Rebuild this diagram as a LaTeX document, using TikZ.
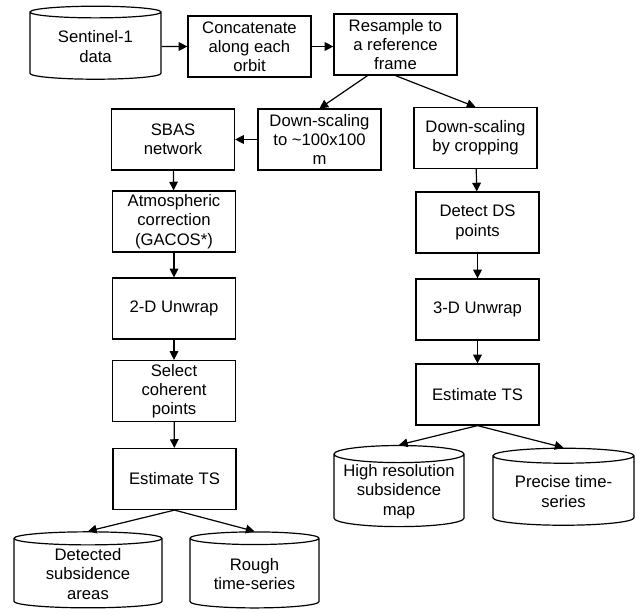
\documentclass[tikz,border=0pt]{standalone}
\usepackage{fontspec}
\setmainfont{Liberation Sans}
\usetikzlibrary{arrows.meta,shapes.geometric,calc}
\newcommand{\lbl}{\fontsize{12.5}{14.4}\selectfont}
\tikzset{
  stepbox/.style={draw,line width=0.9pt,align=center,inner sep=1pt,minimum width=92.25pt,minimum height=45.75pt,font=\lbl},
  store/.style={cylinder,shape border rotate=90,draw,line width=0.9pt,aspect=0.15,align=center,inner sep=1pt,font=\lbl},
  flow/.style={line width=0.9pt,-{Triangle[length=6.5pt,width=6.5pt]}},
}
\begin{document}
\begin{tikzpicture}[x=0.75pt,y=-0.75pt]
\useasboundingbox (0,0) rectangle (636,612);
\node[store,minimum width=98.25pt,minimum height=54.75pt] (data) at (95.5,46.5) {Sentinel-1\\data};
\node[stepbox] (concat) at (249.5,46.5) {Concatenate\\along each\\orbit};
\node[stepbox] (resample) at (395.5,44.5) {Resample to\\a reference\\frame};
\node[stepbox] (downsc) at (319.5,139.5) {Down-scaling\\to \textasciitilde100x100\\m};
\node[stepbox] (crop) at (475.5,138) {Down-scaling\\by cropping};
\node[stepbox] (sbas) at (173,139.5) {SBAS\\network};
\node[stepbox] (atmo) at (174,221.5) {Atmospheric\\correction\\(GACOS*)};
\node[stepbox] (unwraptwo) at (174,308.5) {2-D Unwrap};
\node[stepbox] (select) at (174,391) {Select\\coherent\\points};
\node[stepbox] (estleft) at (174.5,479) {Estimate TS};
\node[store,minimum width=111pt,minimum height=57pt] (detected) at (88,574) {Detected\\subsidence\\areas};
\node[store,minimum width=96.75pt,minimum height=57pt] (rough) at (254.5,574) {Rough\\time-series};
\node[stepbox] (detect) at (477.5,222.5) {Detect DS\\points};
\node[stepbox] (unwrapthree) at (477.5,309.5) {3-D Unwrap};
\node[stepbox] (estright) at (477.5,394.5) {Estimate TS};
\node[store,minimum width=97.5pt,minimum height=57.75pt] (highres) at (399,491.5) {High resolution\\subsidence\\map};
\node[store,minimum width=105.75pt,minimum height=57.75pt] (precise) at (563.5,491.5) {Precise time-\\series};

\draw[flow] (data) -- (concat);
\draw[flow] (concat.east) -- (concat.east -| resample.west);
\draw[flow] ($(resample.south)!0.45!(resample.south west)$) -- (downsc.north);
\draw[flow] (resample.south) -- (crop.north);
\draw[flow] (downsc.west) -- (sbas.east);
\draw[flow] (sbas) -- (atmo);
\draw[flow] (atmo) -- (unwraptwo);
\draw[flow] (unwraptwo) -- (select);
\draw[flow] (select) -- (estleft);
\draw[flow] (estleft.south) -- (detected.north);
\draw[flow] (estleft.south) -- (rough.north);
\draw[flow] (crop) -- (detect);
\draw[flow] (detect) -- (unwrapthree);
\draw[flow] (unwrapthree) -- (estright);
\draw[flow] (estright.south) -- (highres.north);
\draw[flow] (estright.south) -- (precise.north);
\end{tikzpicture}
\end{document}
